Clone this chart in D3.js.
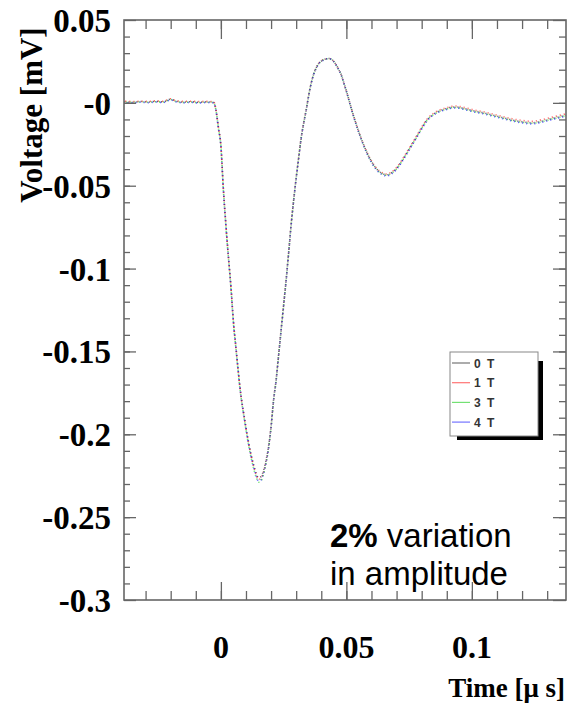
<!DOCTYPE html>
<html>
<head>
<meta charset="utf-8">
<script src="https://cdn.jsdelivr.net/npm/d3@7"></script>
<style>
  body { margin: 0; background: #fff; }
  svg { display: block; }
</style>
</head>
<body>
<svg id="chart" width="567" height="705"></svg>
<script>
"use strict";

// time axis in microseconds, shared by all four traces
var times = [
  -0.0385, -0.035, -0.032, -0.029, -0.026, -0.023, -0.020, -0.018, -0.015, -0.012, -0.009, -0.006, -0.003, -0.002, -0.001, 0,
  0.001, 0.002, 0.003, 0.004, 0.005, 0.006, 0.007, 0.008, 0.009, 0.010,
  0.011, 0.012, 0.013, 0.014, 0.015, 0.016, 0.017, 0.018, 0.019, 0.020,
  0.021, 0.022, 0.023, 0.024, 0.025, 0.026, 0.027, 0.028, 0.029, 0.030,
  0.031, 0.032, 0.033, 0.034, 0.035, 0.036, 0.037, 0.038, 0.039, 0.040,
  0.041, 0.042, 0.043, 0.044, 0.045, 0.046, 0.047, 0.048, 0.049, 0.050,
  0.052, 0.054, 0.056, 0.058, 0.060, 0.062, 0.064, 0.066, 0.068, 0.070,
  0.072, 0.074, 0.076, 0.078, 0.080, 0.082, 0.084, 0.086, 0.088, 0.090,
  0.092, 0.094, 0.096, 0.098, 0.100,
  0.104, 0.108, 0.112, 0.116, 0.120, 0.124, 0.128, 0.132, 0.136, 0.1375
];

// voltage [mV] for each field setting
var volts_0T = [
  0.0007, 0.0004, 0.0008, 0.0005, 0.0009, 0.0006, 0.0022, 0.0011, 0.0004, 0.0007, 0.0003, 0.0006, 0.0004, -0.0040, -0.0148, -0.0258,
  -0.0523, -0.0737, -0.0928, -0.1108, -0.1320, -0.1475, -0.1628, -0.1763, -0.1864, -0.1958,
  -0.2045, -0.2120, -0.2182, -0.2232, -0.2262, -0.2255, -0.2218, -0.2156, -0.2072, -0.1950,
  -0.1790, -0.1672, -0.1521, -0.1370, -0.1220, -0.1069, -0.0904, -0.0734, -0.0587, -0.0454,
  -0.0331, -0.0211, -0.0121, -0.0042, 0.0046, 0.0120, 0.0175, 0.0212, 0.0238, 0.0252,
  0.0261, 0.0266, 0.0268, 0.0264, 0.0250, 0.0228, 0.0200, 0.0168, 0.0120, 0.0072,
  -0.0035, -0.0133, -0.0220, -0.0294, -0.0354, -0.0398, -0.0424, -0.0434, -0.0422, -0.0395,
  -0.0353, -0.0304, -0.0254, -0.0204, -0.0152, -0.0105, -0.0076, -0.0056, -0.0043, -0.0034,
  -0.0026, -0.0025, -0.0031, -0.0038, -0.0046,
  -0.0058, -0.0073, -0.0088, -0.0103, -0.0114, -0.0120, -0.0110, -0.0094, -0.0080, -0.0074
];
var volts_1T = [
  0.0011, 0.0008, 0.0010, 0.0009, 0.0012, 0.0010, 0.0025, 0.0013, 0.0009, 0.0010, 0.0008, 0.0009, 0.0008, -0.0036, -0.0145, -0.0255,
  -0.0520, -0.0735, -0.0930, -0.1110, -0.1322, -0.1478, -0.1632, -0.1768, -0.1869, -0.1964,
  -0.2051, -0.2127, -0.2190, -0.2241, -0.2272, -0.2264, -0.2226, -0.2163, -0.2078, -0.1954,
  -0.1792, -0.1673, -0.1521, -0.1369, -0.1218, -0.1066, -0.0901, -0.0731, -0.0584, -0.0451,
  -0.0328, -0.0208, -0.0118, -0.0040, 0.0048, 0.0122, 0.0176, 0.0213, 0.0239, 0.0253,
  0.0262, 0.0266, 0.0267, 0.0263, 0.0249, 0.0227, 0.0199, 0.0167, 0.0119, 0.0071,
  -0.0036, -0.0132, -0.0218, -0.0291, -0.0350, -0.0394, -0.0419, -0.0429, -0.0417, -0.0390,
  -0.0348, -0.0299, -0.0249, -0.0199, -0.0147, -0.0100, -0.0071, -0.0051, -0.0038, -0.0029,
  -0.0021, -0.0019, -0.0025, -0.0032, -0.0040,
  -0.0052, -0.0066, -0.0081, -0.0096, -0.0106, -0.0112, -0.0101, -0.0086, -0.0072, -0.0066
];
var volts_3T = [
  0.0005, 0.0003, 0.0006, 0.0004, 0.0007, 0.0005, 0.0020, 0.0009, 0.0003, 0.0005, 0.0002, 0.0004, 0.0003, -0.0041, -0.0150, -0.0261,
  -0.0527, -0.0742, -0.0934, -0.1115, -0.1328, -0.1484, -0.1638, -0.1774, -0.1877, -0.1972,
  -0.2060, -0.2137, -0.2202, -0.2255, -0.2289, -0.2281, -0.2240, -0.2174, -0.2086, -0.1960,
  -0.1797, -0.1677, -0.1525, -0.1373, -0.1222, -0.1070, -0.0905, -0.0735, -0.0588, -0.0455,
  -0.0332, -0.0212, -0.0122, -0.0043, 0.0045, 0.0119, 0.0174, 0.0211, 0.0237, 0.0251,
  0.0260, 0.0265, 0.0267, 0.0263, 0.0249, 0.0227, 0.0199, 0.0167, 0.0119, 0.0071,
  -0.0036, -0.0134, -0.0221, -0.0295, -0.0356, -0.0400, -0.0426, -0.0437, -0.0425, -0.0398,
  -0.0356, -0.0307, -0.0257, -0.0207, -0.0155, -0.0108, -0.0079, -0.0059, -0.0046, -0.0037,
  -0.0029, -0.0028, -0.0034, -0.0041, -0.0049,
  -0.0061, -0.0076, -0.0091, -0.0106, -0.0117, -0.0123, -0.0113, -0.0097, -0.0083, -0.0077
];
var volts_4T = [
  0.0002, 0.0000, 0.0004, 0.0001, 0.0005, 0.0002, 0.0018, 0.0007, 0.0000, 0.0003, -0.0001, 0.0002, 0.0000, -0.0043, -0.0152, -0.0262,
  -0.0527, -0.0741, -0.0932, -0.1113, -0.1325, -0.1481, -0.1635, -0.1771, -0.1873, -0.1968,
  -0.2056, -0.2132, -0.2196, -0.2248, -0.2282, -0.2275, -0.2235, -0.2170, -0.2083, -0.1958,
  -0.1796, -0.1677, -0.1525, -0.1374, -0.1224, -0.1072, -0.0907, -0.0737, -0.0590, -0.0457,
  -0.0334, -0.0214, -0.0124, -0.0045, 0.0043, 0.0117, 0.0172, 0.0209, 0.0236, 0.0250,
  0.0259, 0.0265, 0.0267, 0.0262, 0.0248, 0.0226, 0.0198, 0.0166, 0.0118, 0.0070,
  -0.0038, -0.0137, -0.0224, -0.0299, -0.0360, -0.0404, -0.0431, -0.0441, -0.0429, -0.0401,
  -0.0359, -0.0310, -0.0260, -0.0210, -0.0158, -0.0111, -0.0082, -0.0062, -0.0049, -0.0040,
  -0.0032, -0.0031, -0.0037, -0.0044, -0.0052,
  -0.0064, -0.0079, -0.0094, -0.0109, -0.0121, -0.0127, -0.0117, -0.0101, -0.0087, -0.0081
];

var series_names = ['0 T', '1 T', '3 T', '4 T'];
var series_colors = ['#000000', '#ff0000', '#00c800', '#0000ff'];
var series_values = [volts_0T, volts_1T, volts_3T, volts_4T];

var y_tick_values = [0.05, 0, -0.05, -0.1, -0.15, -0.2, -0.25, -0.3];
var y_tick_labels = ['0.05', '-0', '-0.05', '-0.1', '-0.15', '-0.2', '-0.25', '-0.3'];
var x_tick_values = [0, 0.05, 0.1];
var x_tick_labels = ['0', '0.05', '0.1'];

var margin = {left: 124, top: 20, right: 566, bottom: 600};
var svg = d3.select('#chart');

var x = d3.scaleLinear().domain([-0.0386, 0.1375]).range([margin.left, margin.right]);
var y = d3.scaleLinear().domain([-0.3, 0.05]).range([margin.bottom, margin.top]);

var x_minor = d3.range(-0.03, 0.135, 0.01).map(function(d) { return +d.toFixed(3); });
var y_minor = d3.range(-0.29, 0.05, 0.01).map(function(d) { return +d.toFixed(3); });

// traces, drawn as dotted paths so the four overlap like scattered markers
var line = d3.line()
  .curve(d3.curveMonotoneX)
  .x(function(d) { return x(d[0]); })
  .y(function(d) { return y(d[1]); });

series_values.forEach(function(values, i) {
  var pts = times.map(function(t, j) { return [t, values[j]]; });
  svg.append('path')
    .datum(pts)
    .attr('fill', 'none')
    .attr('stroke', series_colors[i])
    .attr('stroke-width', 1.6)
    .attr('stroke-opacity', 0.6)
    .attr('stroke-dasharray', '1.1 3')
    .attr('stroke-dashoffset', -i * 1.0)
    .attr('d', line);
});

// frame and ticks
function tick_axis(axis, tx, ty) {
  var g = svg.append('g').attr('transform', 'translate(' + tx + ',' + ty + ')').call(axis);
  g.select('.domain').remove();
  g.selectAll('text').remove();
  g.selectAll('line').attr('stroke', '#666').attr('stroke-width', 1.3);
  return g;
}

tick_axis(d3.axisBottom(x).tickValues(x_minor).tickSize(-9), 0, margin.bottom);
tick_axis(d3.axisBottom(x).tickValues(x_tick_values).tickSize(-18), 0, margin.bottom);
tick_axis(d3.axisTop(x).tickValues(x_minor).tickSize(-9), 0, margin.top);
tick_axis(d3.axisTop(x).tickValues(x_tick_values).tickSize(-19), 0, margin.top);
tick_axis(d3.axisLeft(y).tickValues(y_minor).tickSize(-6), margin.left, 0);
tick_axis(d3.axisLeft(y).tickValues(y_tick_values).tickSize(-12), margin.left, 0);
tick_axis(d3.axisRight(y).tickValues(y_minor).tickSize(-7), margin.right, 0);
tick_axis(d3.axisRight(y).tickValues(y_tick_values).tickSize(-13), margin.right, 0);

svg.append('rect')
  .attr('x', margin.left)
  .attr('y', margin.top)
  .attr('width', margin.right - margin.left)
  .attr('height', margin.bottom - margin.top)
  .attr('fill', 'none')
  .attr('stroke', '#666')
  .attr('stroke-width', 1.6);

// tick labels
svg.selectAll('text.ylab')
  .data(y_tick_values)
  .enter().append('text')
  .attr('class', 'ylab')
  .attr('x', 111)
  .attr('y', function(d) { return y(d) + 12; })
  .attr('text-anchor', 'end')
  .style('font', 'bold 33px "Liberation Serif", serif')
  .text(function(d, i) { return y_tick_labels[i]; });

svg.selectAll('text.xlab')
  .data(x_tick_values)
  .enter().append('text')
  .attr('class', 'xlab')
  .attr('x', function(d) { return x(d); })
  .attr('y', 658)
  .attr('text-anchor', 'middle')
  .style('font', 'bold 32px "Liberation Serif", serif')
  .text(function(d, i) { return x_tick_labels[i]; });

// axis titles
svg.append('text')
  .attr('transform', 'translate(42,115) rotate(-90)')
  .attr('text-anchor', 'middle')
  .style('font', 'bold 31px "Liberation Serif", serif')
  .text('Voltage [mV]');

svg.append('text')
  .attr('x', 565)
  .attr('y', 697)
  .attr('text-anchor', 'end')
  .style('font', 'bold 27px "Liberation Serif", serif')
  .text('Time [\u03bc s]');

// annotation
var note = svg.append('text')
  .attr('x', 330)
  .attr('y', 547)
  .style('font', '33px "Liberation Sans", sans-serif');
note.append('tspan').style('font-weight', 'bold').text('2%');
note.append('tspan').text(' variation');
svg.append('text')
  .attr('x', 330)
  .attr('y', 585)
  .style('font', '33px "Liberation Sans", sans-serif')
  .text('in amplitude');

// legend with drop shadow
var legend = {x: 450, y: 352, w: 88, h: 84};
svg.append('rect')
  .attr('x', legend.x + 7).attr('y', legend.y + 9)
  .attr('width', legend.w - 2).attr('height', legend.h - 5)
  .attr('fill', '#000');
svg.append('rect')
  .attr('x', legend.x).attr('y', legend.y)
  .attr('width', legend.w).attr('height', legend.h)
  .attr('fill', '#fff')
  .attr('stroke', '#888')
  .attr('stroke-width', 1);

var entries = svg.selectAll('g.entry')
  .data(series_names)
  .enter().append('g')
  .attr('class', 'entry')
  .attr('transform', function(d, i) { return 'translate(' + legend.x + ',' + (legend.y + 11 + i * 19.7) + ')'; });
entries.append('line')
  .attr('x1', 2).attr('x2', 20)
  .attr('stroke', function(d, i) { return series_colors[i]; })
  .attr('stroke-opacity', 0.55)
  .attr('stroke-width', 1.2);
entries.append('text')
  .attr('x', 24)
  .attr('y', 4.5)
  .style('font', 'bold 12px "Liberation Sans", sans-serif')
  .style('letter-spacing', '1.5px')
  .attr('fill', '#333')
  .text(function(d) { return d; });
</script>
</body>
</html>
